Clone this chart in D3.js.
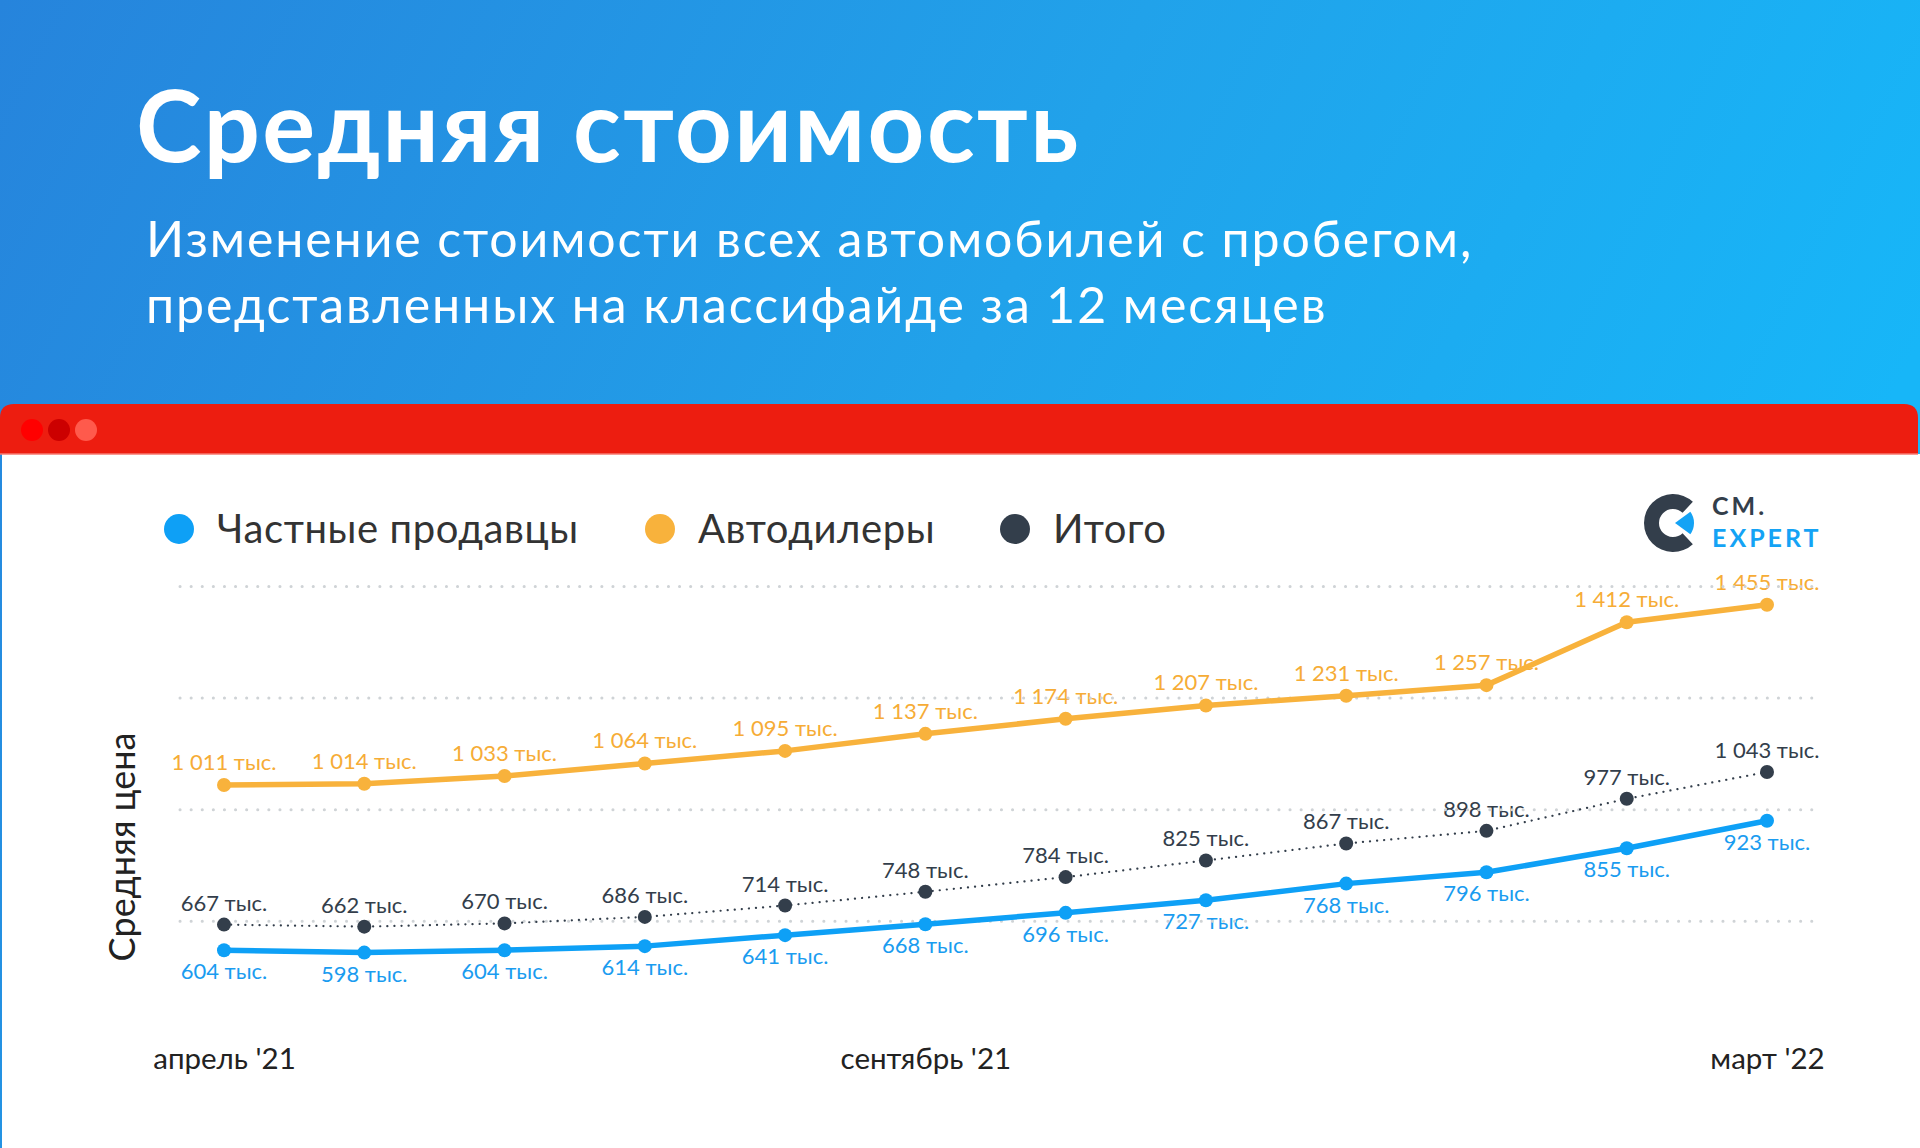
<!DOCTYPE html>
<html><head><meta charset="utf-8">
<script src="https://cdn.jsdelivr.net/npm/d3@7"></script>
<style>html,body{margin:0;padding:0;overflow:hidden;background:#fff}svg{display:block}</style>
</head><body>
<svg id="c" width="1920" height="1148"></svg>
<script>
// ---- data ----
const months = ["апрель '21","май '21","июнь '21","июль '21","август '21","сентябрь '21","октябрь '21","ноябрь '21","декабрь '21","январь '22","февраль '22","март '22"];
const tickLabels = ["апрель '21","сентябрь '21","март '22"];
const privateSellers = [604,598,604,614,641,668,696,727,768,796,855,923];
const dealers = [1011,1014,1033,1064,1095,1137,1174,1207,1231,1257,1412,1455];
const total = [667,662,670,686,714,748,784,825,867,898,977,1043];
const gridValues = [675,950,1225,1500];
const seriesNames = ["Частные продавцы","Автодилеры","Итого"];
const title = "Средняя стоимость";
const subtitle = ["Изменение стоимости всех автомобилей с пробегом,","представленных на классифайде за 12 месяцев"];
const yTitle = "Средняя цена";

const F = "Lato, 'Open Sans', sans-serif";
const svg = d3.select("#c");
const defs = svg.append("defs");
const g1 = defs.append("linearGradient").attr("id","bg").attr("x1","0").attr("y1","0").attr("x2","1").attr("y2","0.3");
g1.append("stop").attr("offset","0").attr("stop-color","#2684dc");
g1.append("stop").attr("offset","0.55").attr("stop-color","#21a2ea");
g1.append("stop").attr("offset","1").attr("stop-color","#17b6f8");
svg.append("rect").attr("width",1920).attr("height",1148).attr("fill","url(#bg)");

// header text
svg.append("text").attr("x",136).attr("y",162).attr("fill","#fff").attr("font-family",F).attr("font-weight",700).attr("font-size",99).attr("letter-spacing",2.4).text(title);
svg.selectAll("text.sub").data(subtitle).join("text").attr("class","sub")
  .attr("x",146).attr("y",(d,i)=>257+i*66).attr("fill","#fff").attr("font-family",F).attr("font-weight",400).attr("font-size",50).attr("letter-spacing",1.9).text(d=>d);

// window
const r = 14;
svg.append("path").attr("d",`M0,454 L0,${404+r} Q0,404 ${r},404 L${1918-r},404 Q1918,404 1918,${404+r} L1918,454 Z`).attr("fill","#ed1d10");
svg.append("rect").attr("x",2).attr("y",454).attr("width",1918).attr("height",694).attr("fill","#fff");
svg.append("line").attr("x1",0).attr("x2",1918).attr("y1",454).attr("y2",454).attr("stroke","#f7786f").attr("stroke-width",1.5);
[["#ff0000",32],["#cc0000",59],["#ff5a4c",86]].forEach(([c,x])=>svg.append("circle").attr("cx",x).attr("cy",430).attr("r",11).attr("fill",c));

// legend
const colors = ["#0ea0f6","#f8b23c","#333e4b"];
const legX = [179,660,1015];
seriesNames.forEach((n,i)=>{
  svg.append("circle").attr("cx",legX[i]).attr("cy",529).attr("r",15).attr("fill",colors[i]);
  svg.append("text").attr("x",legX[i]+38).attr("y",543).attr("fill","#333").attr("font-family",F).attr("font-size",40).attr("letter-spacing",0.6).text(n);
});

// logo
const lg = svg.append("g").attr("transform","translate(1673,523)");
lg.append("path").attr("d",d3.arc()({innerRadius:14,outerRadius:29,startAngle:Math.PI*0.76,endAngle:Math.PI*2.24})).attr("fill","#333e4b");
lg.append("path").attr("d",d3.arc()({innerRadius:0,outerRadius:19,startAngle:Math.PI*0.3,endAngle:Math.PI*0.7})).attr("transform","translate(2,0)").attr("fill","#14a3f5");
svg.append("text").attr("x",1712).attr("y",515).attr("fill","#333e4b").attr("font-family",F).attr("font-weight",700).attr("font-size",25).attr("letter-spacing",3).text("CM.");
svg.append("text").attr("x",1712).attr("y",547).attr("fill","#14a3f5").attr("font-family",F).attr("font-weight",700).attr("font-size",25).attr("letter-spacing",3).text("EXPERT");

// scales
const x = d3.scalePoint().domain(months).range([224,1767]);
const y = d3.scaleLinear().domain([500,1500]).range([992.4,586.5]);
const fmt = d3.formatLocale({decimal:",",thousands:"\u00a0",grouping:[3],currency:["",""]}).format(",d");
const lab = v => fmt(v)+" тыс.";

// y title
svg.append("text").attr("transform","translate(135,847) rotate(-90)").attr("text-anchor","middle")
  .attr("fill","#222").attr("font-family",F).attr("font-size",36).text(yTitle);

// x axis labels
const xAxis = d3.axisBottom(x).tickValues(tickLabels).tickSize(0).tickPadding(0);
const ax = svg.append("g").attr("transform","translate(0,1048)").call(xAxis);
ax.select(".domain").remove();
ax.selectAll("text").attr("font-family",F).attr("font-size",29.5).attr("fill","#222");

const series = [
  {vals:privateSellers,color:colors[0],lc:"#1a9cf0",dy:29,w:5.5,dash:null,pr:7},
  {vals:dealers,color:colors[1],lc:"#f6ac36",dy:-15,w:5.5,dash:null,pr:7},
  {vals:total,color:colors[2],lc:"#333e4b",dy:-14,w:2.2,dash:"0.1 7",pr:7}
];
// labels
series.forEach(s=>{
  svg.append("g").selectAll("text").data(s.vals).join("text")
    .attr("x",(d,i)=>x(months[i])).attr("y",d=>y(d)+s.dy).attr("text-anchor","middle")
    .attr("fill",s.lc).attr("font-family",F).attr("font-size",22).text(lab);
});
// gridlines
svg.append("g").selectAll("line").data(gridValues).join("line")
  .attr("x1",180).attr("x2",1812).attr("y1",d=>y(d)).attr("y2",d=>y(d))
  .attr("stroke","#cfd3d6").attr("stroke-width",3).attr("stroke-linecap","round").attr("stroke-dasharray","0.1 11");
// lines + points
series.forEach(s=>{
  const line = d3.line().x((d,i)=>x(months[i])).y(d=>y(d));
  svg.append("path").datum(s.vals).attr("d",line).attr("fill","none").attr("stroke",s.color)
    .attr("stroke-width",s.w).attr("stroke-linecap","round").attr("stroke-linejoin","round")
    .attr("stroke-dasharray",s.dash);
  svg.append("g").selectAll("circle").data(s.vals).join("circle")
    .attr("cx",(d,i)=>x(months[i])).attr("cy",d=>y(d)).attr("r",s.pr).attr("fill",s.color);
});
</script>
</body></html>
